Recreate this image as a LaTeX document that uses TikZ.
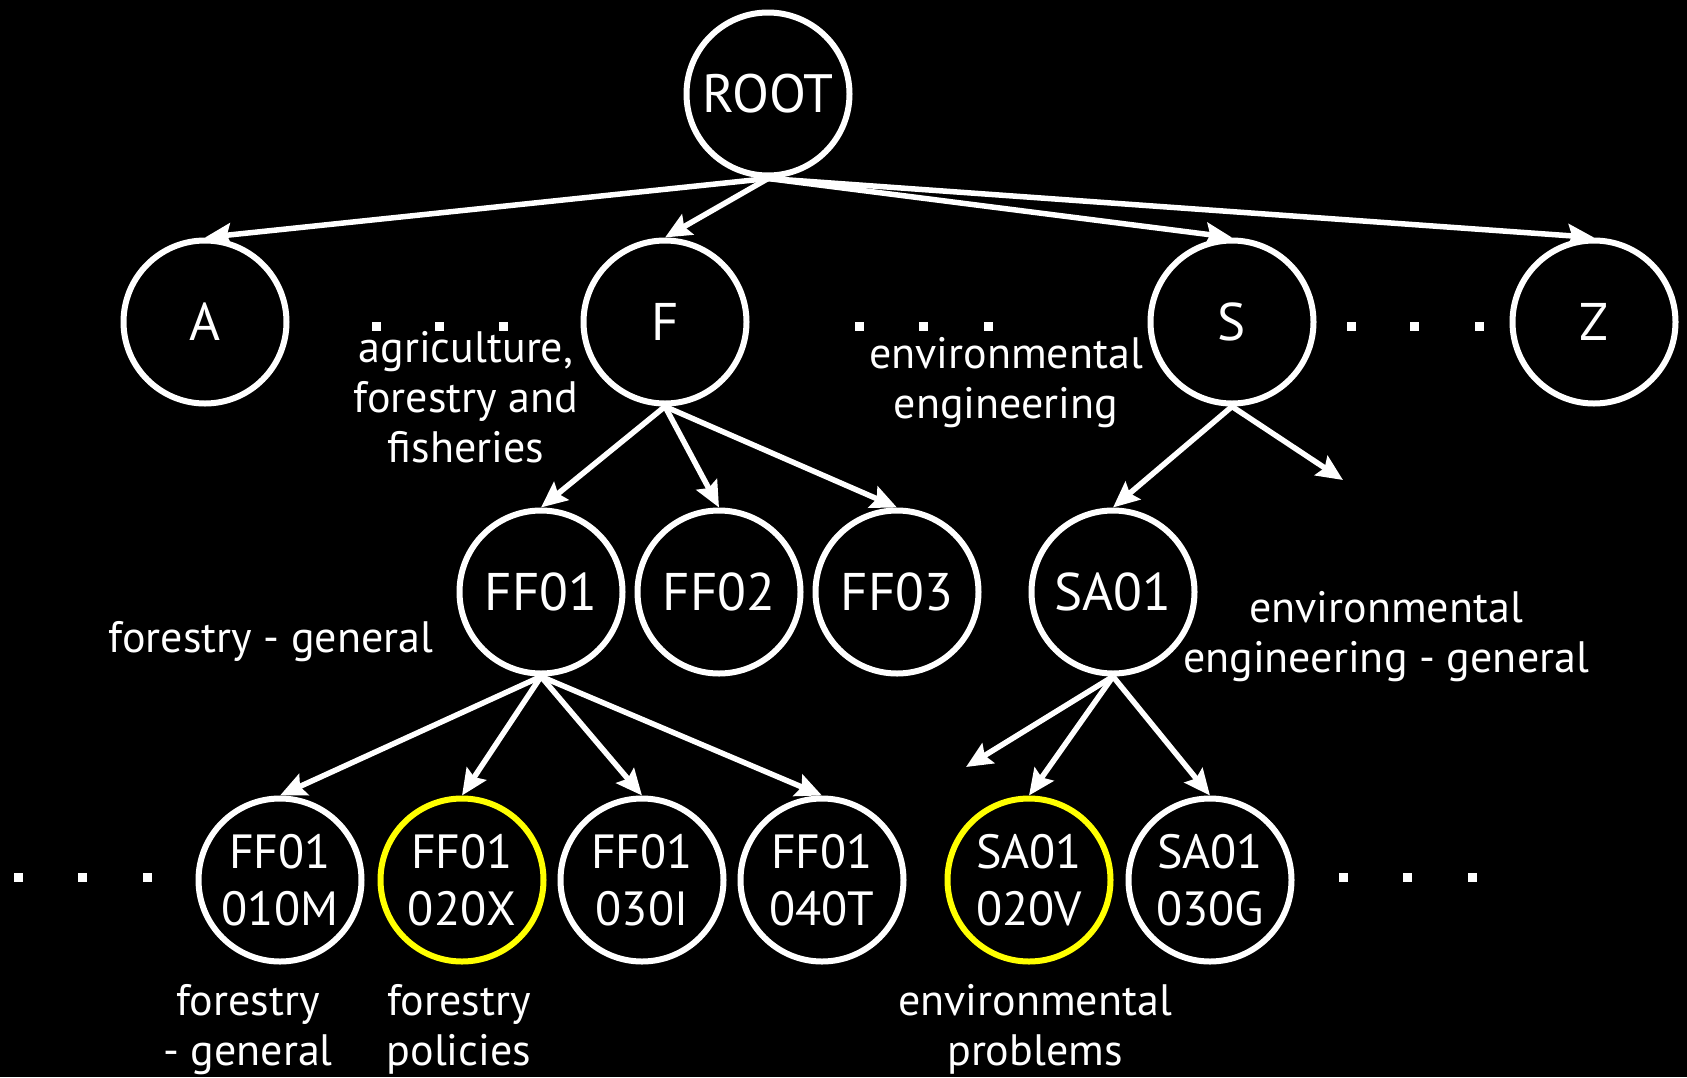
\documentclass[tikz,border=0pt]{standalone}
\usepackage{fontspec}
\setmainfont{PT Sans}
\usetikzlibrary{arrows.meta}
\definecolor{hilite}{RGB}{255,255,0}
\newcommand\lblstrut{\rule{0pt}{36pt}}
\begin{document}
\begin{tikzpicture}[x=1pt,y=-1pt,
  every node/.style={text=white},
  topic/.style={circle, draw=white, line width=6pt, minimum size=163pt,
    inner sep=0pt, align=center},
  big/.style={font=\fontsize{53}{57}\selectfont},
  rootfont/.style={font=\fontsize{54}{57}\selectfont},
  small/.style={font=\fontsize{48}{57}\selectfont},
  chosen/.style={draw=hilite},
  lbl/.style={align=center, inner sep=0pt, anchor=north,
    font=\fontsize{44}{50}\selectfont},
  link/.style={draw=white, line width=5.5pt,
    -{Stealth[length=26pt,width=23pt,inset=4pt]}}
]
\path[use as bounding box, fill=black] (0,0) rectangle (1687,1077);

% tree nodes
\node[topic, rootfont] (root) at (768,94) {ROOT};
\node[topic, big] (a) at (205,322) {A};
\node[topic, big] (f) at (665,322) {F};
\node[topic, big] (s) at (1232,322) {S};
\node[topic, big] (z) at (1594,322) {Z};

\node[topic, big] (ff01) at (541,592) {FF01};
\node[topic, big] (ff02) at (719,592) {FF02};
\node[topic, big] (ff03) at (897,592) {FF03};
\node[topic, big] (sa01) at (1113,592) {SA01};

\node[topic, small] (m) at (280,880) {FF01\\010M};
\node[topic, small, chosen] (x) at (462,880) {FF01\\020X};
\node[topic, small] (i) at (642,880) {FF01\\030I};
\node[topic, small] (t) at (822,880) {FF01\\040T};
\node[topic, small, chosen] (v) at (1029,880) {SA01\\020V};
\node[topic, small] (g) at (1210,880) {SA01\\030G};

\coordinate (sfree) at (1343,480);
\coordinate (safree) at (966,767);

% connectors
\foreach \c in {a,f,s,z} \draw[link] (root.south) -- (\c.north);
\foreach \c in {ff01,ff02,ff03} \draw[link] (f.south) -- (\c.north);
\draw[link] (s.south) -- (sa01.north);
\draw[link] (s.south) -- (sfree);
\foreach \c in {m,x,i,t} \draw[link] (ff01.south) -- (\c.north);
\draw[link] (sa01.south) -- (safree);
\draw[link] (sa01.south) -- (v.north);
\draw[link] (sa01.south) -- (g.north);

% ellipsis dots
\foreach \px/\py in {376/326,439/326,503/326, 859/326,923/326,988/326,
    1351/326,1414/326,1479/326, 18/877,82/877,147/877,
    1343/877,1407/877,1472/877}
  \fill[white] (\px-4.5,\py-4.5) rectangle ++(9,9);

% descriptions
\node[lbl] (lagr) at (466,326) {\lblstrut agriculture,\\forestry and\\fisheries};
\node[lbl] (lenv) at (1006,332) {\lblstrut environmental\\engineering};
\node[lbl] (lfg) at (271,616) {\lblstrut forestry - general};
\node[lbl] (leeg) at (1386,586) {\lblstrut environmental\\engineering - general};
\node[lbl] (lfg2) at (248,979) {\lblstrut forestry\\- general};
\node[lbl] (lfp) at (459,979) {\lblstrut forestry\\policies};
\node[lbl] (lep) at (1035,979) {\lblstrut environmental\\problems};
\end{tikzpicture}
\end{document}
